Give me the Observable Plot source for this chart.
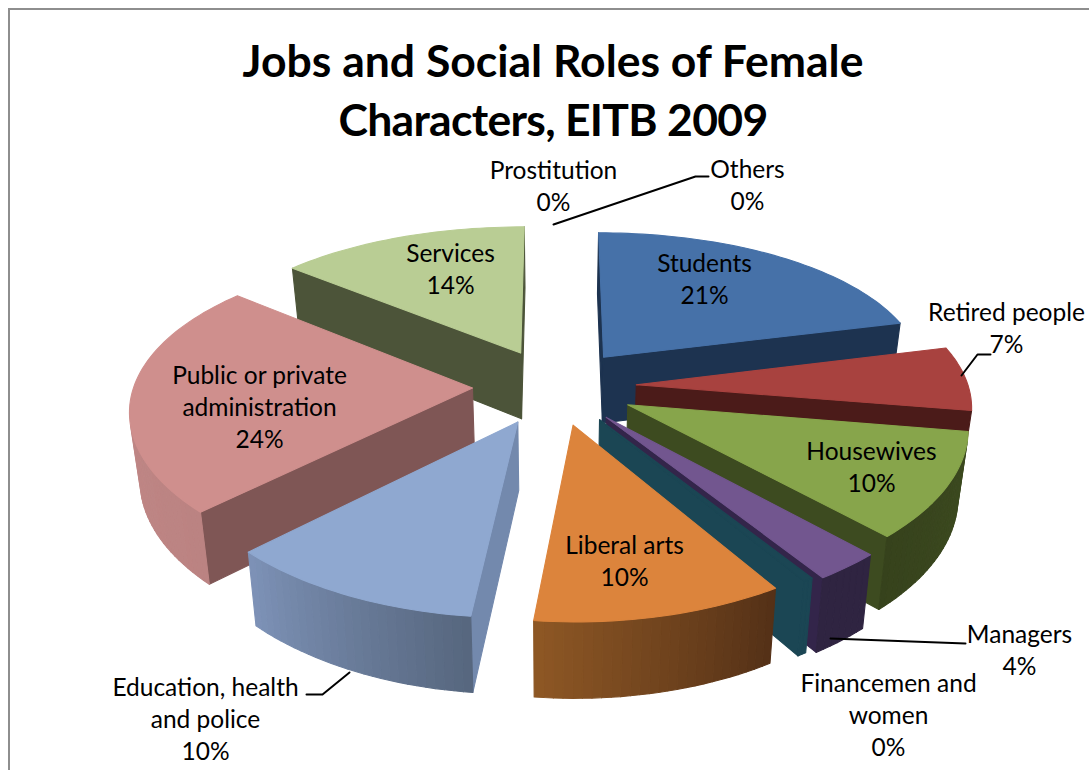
<!DOCTYPE html>
<html>
<head>
<meta charset="utf-8">
<script src="https://cdn.jsdelivr.net/npm/d3@7"></script>
<script src="https://cdn.jsdelivr.net/npm/@observablehq/plot@0.6"></script>
<style>
html,body{margin:0;padding:0;background:#fff;overflow:hidden;width:1089px;height:770px}
#frame{position:absolute;left:8px;top:8px;width:1100px;height:800px;border-left:2px solid #8e8e8e;border-top:2px solid #8e8e8e;pointer-events:none;z-index:5}
#title{margin:0;height:140px;width:1106px;box-sizing:border-box;padding-top:31px;text-align:center;font:bold 44.5px/58.5px Lato,sans-serif;color:#000}
#title span{letter-spacing:-0.7px}
svg{display:block}
</style>
</head>
<body>
<div id="frame"></div>
<div id="title">Jobs and Social Roles of Female<br><span>Characters, EITB 2009</span></div>
<div id="chart"></div>
<script>
// Data (clockwise from the top)
const categories = ["Students","Retired people","Housewives","Managers","Financemen and women","Liberal arts","Education, health and police","Public or private administration","Services","Prostitution","Others"];
const shares = [21,6.6,10.45,2.75,0.42,10.5,10.9,23.47,13.91,0,0];
const labels = ["Students\n21%","Retired people\n7%","Housewives\n10%","Managers\n4%","Financemen and\nwomen\n0%","Liberal arts\n10%","Education, health\nand police\n10%","Public or private\nadministration\n24%","Services\n14%","Prostitution\n0%","Others\n0%"];

// Styles: top face, cut-face, outer wall (start → end of arc), radius factor
const topColors = ["#4671a8","#a8423f","#87a54b","#72568f","#1b4654","#dc843c","#8fa8d0","#cf8f8d","#b9cd94","#fff","#fff"];
const cutColors = ["#1d3350","#4b1b19","#3d4b20","#33254a","#1b4654","#5f3a18","#7389ad","#7f5655","#4c5439","#fff","#fff"];
const arcFrom  = ["#1d3350","#4b1b19","#3d4b20","#2f2441","#1b4654","#553117","#57677f","#bb8382","#4c5439","#fff","#fff"];
const arcTo    = ["#1d3350","#4b1b19","#36421c","#2f2441","#1b4654","#8f5825","#7e93b8","#c58b8a","#4c5439","#fff","#fff"];
const radiusFactor = [0.975,1,1,1.015,1,1,1,1.02,1,1,1];
// Painter's order: back to front
const drawOrder = [8,0,7,1,2,3,4,6,5];

// Annotation layout, in page pixels
const labelX = [704,1006,871,1019,888,624,205,259,450,553,747];
const labelY = [277,326,465,648,713,559,717,405,267,184,183];
const leaders = [
  [[553,224],[695,176],[708,176]],
  [[961,375],[977,354],[990,354]],
  [[830,638],[965,643]],
  [[306,694],[322,694],[349,672]]
];

// View of the 3-D pie
const view = {cx:554, cy:386, R:332, tilt:0.465, perspX:0.12, perspY:0.15, explode:0.247, depth:67, taper:0.975, rot:0};
const total = d3.sum(shares);
const rad = d => d*Math.PI/180;

function project(a, r, mid, bottom){
  const X = Math.sin(a)*r + view.explode*Math.sin(mid);
  const Y = -Math.cos(a)*r - view.explode*Math.cos(mid);
  const sx = 1/(1 - view.perspX*Y), sy = 1/(1 - view.perspY*Y);
  const k = bottom ? view.taper : 1;
  return {
    x: view.cx + view.R*sx*X*k,
    y: view.cy + view.R*view.tilt*sy*Y*k + (bottom ? view.depth*sy : 0)
  };
}
const area2 = ps => d3.polygonArea(ps.map(p => [p.x,p.y]));

let acc = 0;
const slices = shares.map((v,i) => {
  const a0 = rad(view.rot + acc/total*360); acc += v;
  const a1 = rad(view.rot + acc/total*360);
  return {i, a0, a1, mid:(a0+a1)/2};
});

const rows = [];
let pid = 0;
function addPoly(ps, fill){
  const id = pid++;
  for (const p of [...ps, ps[0]]) rows.push({id, x:p.x, y:p.y, fill});
}
for (const i of drawOrder){
  const {a0,a1,mid} = slices[i];
  const r = radiusFactor[i];
  const n = Math.max(2, Math.ceil((a1-a0)/rad(1.5)));
  const angles = d3.range(n+1).map(j => a0+(a1-a0)*j/n);
  const apexT = project(0,0,mid,false), apexB = project(0,0,mid,true);
  // cut faces, kept only when they face the viewer
  const c0 = [apexT, project(a0,r,mid,false), project(a0,r,mid,true), apexB];
  const c1 = [apexT, apexB, project(a1,r,mid,true), project(a1,r,mid,false)];
  for (const c of [c0,c1]) if (area2(c) > 0) addPoly(c, cutColors[i]);
  // outer wall
  const mix = d3.interpolateRgb(arcFrom[i], arcTo[i]);
  for (let j=0;j<n;j++){
    const q = [project(angles[j],r,mid,false), project(angles[j],r,mid,true), project(angles[j+1],r,mid,true), project(angles[j+1],r,mid,false)];
    if (area2(q) < 0) addPoly(q, mix(j/n));
  }
  // top face
  addPoly([apexT, ...angles.map(a => project(a,r,mid,false))], topColors[i]);
}

const labelRows = labels.map((t,i) => ({t, x:labelX[i], y:labelY[i]}));
const leaderRows = leaders.flatMap((l,id) => l.map(([x,y]) => ({id,x,y})));

const chart = Plot.plot({
  width:1089, height:630,
  margin:0,
  x:{domain:[0,1089], range:[0,1089], axis:null},
  y:{domain:[140,770], range:[0,630], axis:null},
  color:{type:"identity"},
  style:{background:"transparent"},
  marks:[
    Plot.line(rows,{x:"x",y:"y",z:"id",fill:"fill",stroke:"fill",strokeWidth:1.1,strokeLinejoin:"round",curve:"linear"}),
    Plot.line(leaderRows,{x:"x",y:"y",z:"id",stroke:"#000",strokeWidth:2}),
    Plot.text(labelRows,{x:"x",y:"y",text:"t",fontSize:24.5,lineHeight:1.31,fontFamily:"Lato, sans-serif",fill:"#000"})
  ]
});
document.getElementById("chart").appendChild(chart);
</script>
</body>
</html>
